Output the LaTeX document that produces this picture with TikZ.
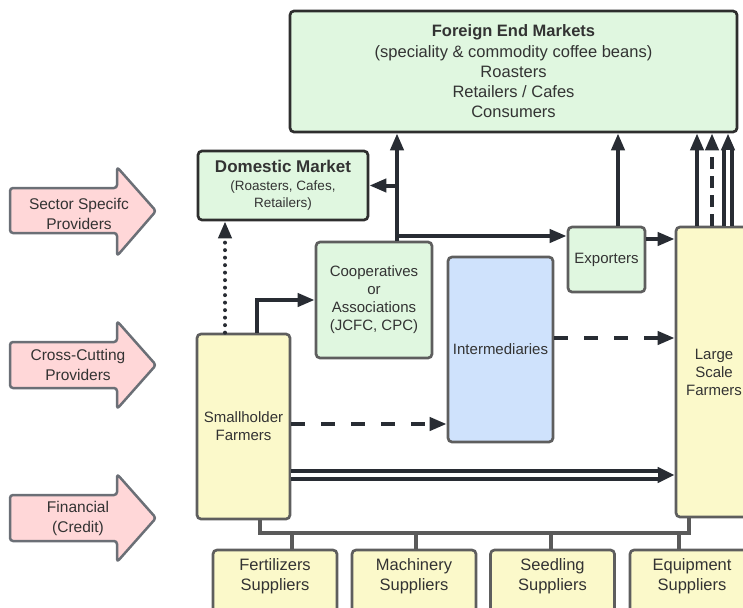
\documentclass[tikz,border=0pt]{standalone}
\usepackage{fontspec}
\setmainfont{Liberation Sans}
\usetikzlibrary{arrows.meta}

\definecolor{ink}{HTML}{282C33}
\definecolor{txt}{HTML}{333333}
\definecolor{greenfill}{HTML}{E0F7E0}
\definecolor{yellowfill}{HTML}{FBF9CA}
\definecolor{bluefill}{HTML}{CFE2FC}
\definecolor{pinkfill}{HTML}{FFD7D8}
\definecolor{pinkline}{HTML}{6B6F76}
\definecolor{boxline}{HTML}{5E5E5E}
\definecolor{darkline}{HTML}{2E2E2E}
\definecolor{busline}{HTML}{5A5A5A}

\tikzset{
  base/.style={rectangle, rounded corners=4pt, line width=2.7pt, inner sep=2pt,
    align=center, text=txt, font=\fontsize{15}{18}\selectfont},
  market/.style={base, draw=darkline, fill=greenfill},
  greenbox/.style={base, draw=boxline, fill=greenfill},
  yellowbox/.style={base, draw=boxline, fill=yellowfill},
  bluebox/.style={base, draw=boxline, fill=bluefill},
  supbox/.style={base, draw=boxline, fill=yellowfill, minimum width=124pt, minimum height=80pt},
  suptext/.style={align=center, text=txt, font=\fontsize{16.5}{20}\selectfont, inner sep=0pt},
  provider/.style={draw=pinkline, fill=pinkfill, line width=2.5pt, rounded corners=3pt, line join=round},
  provtext/.style={align=center, text=txt, font=\fontsize{15.5}{19.5}\selectfont, inner sep=0pt},
  tip/.style={-{Triangle[length=17pt,width=13pt]}},
  flow/.style={draw=ink, line width=4pt, tip},
  dashflow/.style={flow, dash pattern=on 14pt off 16pt},
  vdashflow/.style={flow, dash pattern=on 12pt off 7pt},
  dotflow/.style={flow, line cap=round, dash pattern=on 0pt off 7.5pt, line width=4pt},
  hdouble/.style={draw=ink, line width=12pt, -{Triangle[length=17pt,width=15pt]},
    postaction={draw=white, line width=4pt, -, shorten >=17pt}},
  vdouble/.style={draw=ink, line width=12pt, -{Triangle[length=17pt,width=13pt]},
    postaction={draw=white, line width=3.5pt, -, shorten >=17pt}},
  bus/.style={draw=busline, line width=4pt, line join=miter},
}

\begin{document}
\begin{tikzpicture}[x=1pt, y=-1pt]
\useasboundingbox (0,0) rectangle (743,607);
\clip (0,0) rectangle (743,607);

% provider arrows on the left
\draw[provider] (10,188) -- (117,188) -- (117,167) -- (156,211) -- (117,256)
  -- (117,233) -- (10,233) -- cycle;
\node[provtext] (ssp) at (79,214) {Sector Specifc\\Providers};

\draw[provider] (10,342) -- (117,342) -- (117,321) -- (156,365) -- (117,409)
  -- (117,388) -- (10,388) -- cycle;
\node[provtext] (ccp) at (78,365) {Cross-Cutting\\Providers};

\draw[provider] (10,495) -- (117,495) -- (117,474) -- (156,518) -- (117,562)
  -- (117,541) -- (10,541) -- cycle;
\node[provtext] (fin) at (78,518.5) {Financial\\(Credit)};

% markets
\node[market, minimum width=447pt, minimum height=121pt,
  font=\fontsize{16.5}{20}\selectfont] (fem) at (513.5,71.5)
  {\textbf{Foreign End Markets}\\[1pt](speciality \& commodity coffee beans)\\Roasters\\Retailers / Cafes\\Consumers};
\node[market, minimum width=170pt, minimum height=69pt,
  font=\fontsize{13.5}{17}\selectfont] (dm) at (283,185.5)
  {{\fontsize{17}{17}\selectfont\bfseries Domestic Market}\\[1pt](Roasters, Cafes,\\Retailers)};

% chain actors
\node[greenbox, minimum width=116pt, minimum height=116pt] (coop) at (374,300)
  {Cooperatives\\or\\Associations\\(JCFC, CPC)};
\node[bluebox, minimum width=105pt, minimum height=185pt] (im) at (500.5,349.5) {Intermediaries};
\node[greenbox, minimum width=77pt, minimum height=65pt] (exp) at (606.5,259.5) {Exporters};
\node[yellowbox, minimum width=76pt, minimum height=290pt] (ls) at (714,372)
  {Large\\Scale\\Farmers};
\node[yellowbox, minimum width=93pt, minimum height=185pt] (sh) at (243.5,426.5)
  {Smallholder\\Farmers};

% input suppliers
\node[supbox] (fs) at (275,590) {};
\node[supbox] (ms) at (414,590) {};
\node[supbox] (ss) at (552.5,590) {};
\node[supbox] (es) at (692,590) {};
\node[suptext] (fst) at ([yshift=-28pt]fs.north) {Fertilizers\\Suppliers};
\node[suptext] (mst) at ([yshift=-28pt]ms.north) {Machinery\\Suppliers};
\node[suptext] (sst) at ([yshift=-28pt]ss.north) {Seedling\\Suppliers};
\node[suptext] (est) at ([yshift=-28pt]es.north) {Equipment\\Suppliers};

% reference positions for connectors
\coordinate (xdot) at (225,0);
\coordinate (xsc) at (257,0);
\coordinate (xcv) at (397,0);
\coordinate (xet) at (618,0);
\coordinate (xl1) at (697,0);
\coordinate (xl2) at (712,0);
\coordinate (xl3) at (728,0);
\coordinate (yexp) at (0,236);
\coordinate (yel) at (0,239);
\coordinate (yil) at (0,338);
\coordinate (ysi) at (0,424);
\coordinate (ysl) at (0,475);
\coordinate (ybus) at (0,533);
\coordinate (xba) at (260,0);
\coordinate (xbb) at (689,0);
\coordinate (xt1) at (292,0);
\coordinate (xt2) at (416,0);
\coordinate (xt3) at (551,0);
\coordinate (xt4) at (679,0);

% supplier bus
\draw[bus] (sh.south -| xba) -- (xba |- ybus) -- (xbb |- ybus) -- (ls.south -| xbb);
\draw[bus] (xt1 |- ybus) -- (fs.north -| xt1);
\draw[bus] (xt2 |- ybus) -- (ms.north -| xt2);
\draw[bus] (xt3 |- ybus) -- (ss.north -| xt3);
\draw[bus] (xt4 |- ybus) -- (es.north -| xt4);

% flows
\draw[dotflow] (sh.north -| xdot) -- (dm.south -| xdot);
\draw[flow] (sh.north -| xsc) |- (coop.west);
\draw[flow] (coop.north -| xcv) -- (fem.south -| xcv);
\draw[flow] (xcv |- dm.east) -- (dm.east);
\draw[flow] (xcv |- yexp) -- (exp.west |- yexp);
\draw[flow] (exp.north -| xet) -- (fem.south -| xet);
\draw[flow] (exp.east |- yel) -- (ls.west |- yel);
\draw[dashflow] (im.east |- yil) -- (ls.west |- yil);
\draw[dashflow] (sh.east |- ysi) -- (im.west |- ysi);
\draw[hdouble] (sh.east |- ysl) -- (ls.west |- ysl);
\draw[flow] (ls.north -| xl1) -- (fem.south -| xl1);
\draw[vdashflow] (ls.north -| xl2) -- (fem.south -| xl2);
\draw[vdouble] (ls.north -| xl3) -- (fem.south -| xl3);
\end{tikzpicture}
\end{document}
